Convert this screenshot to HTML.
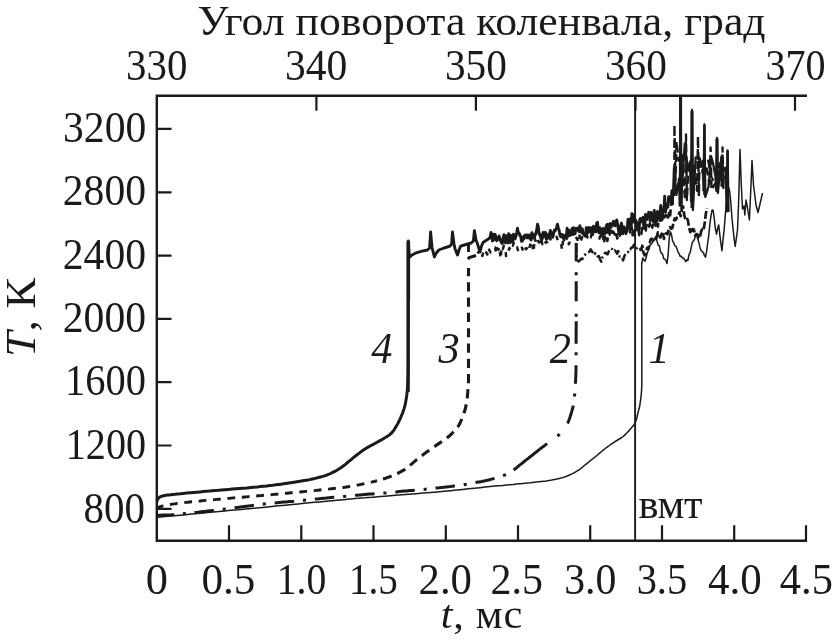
<!DOCTYPE html>
<html lang="ru">
<head>
<meta charset="utf-8">
<title>График</title>
<style>
html,body{margin:0;padding:0;background:#fff;}
body{width:832px;height:641px;overflow:hidden;position:relative;}
svg{position:absolute;left:0;top:0;display:block;}
text{font-family:"Liberation Serif","DejaVu Serif",serif;fill:#1a1a1a;}
.ax{stroke:#1a1a1a;stroke-width:2.4;fill:none;stroke-linecap:butt;stroke-linejoin:miter;}
.tk{stroke:#1a1a1a;stroke-width:2.2;fill:none;}
</style>
</head>
<body>
<svg width="832" height="641" viewBox="0 0 832 641">
<rect width="832" height="641" fill="#fff"/>
<!-- text labels -->
<text transform="translate(197.6,34.5) scale(1,0.95)" text-anchor="start" font-size="43.7" textLength="568" lengthAdjust="spacingAndGlyphs">Угол поворота коленвала, град</text>
<text transform="translate(126.03,79.9) scale(0.9873,1.045)" font-size="41.4">330</text>
<text transform="translate(284.89,79.9) scale(1.0059,1.045)" font-size="41.4">340</text>
<text transform="translate(444.90,79.9) scale(0.9983,1.045)" font-size="41.4">350</text>
<text transform="translate(604.90,79.9) scale(0.9983,1.045)" font-size="41.4">360</text>
<text transform="translate(765.46,79.9) scale(0.9678,1.045)" font-size="41.4">370</text>
<text transform="translate(62.99,142.0) scale(1.0063,1.045)" font-size="41.4">3200</text>
<text transform="translate(62.79,205.3) scale(1.0063,1.045)" font-size="41.4">2800</text>
<text transform="translate(62.79,268.9) scale(1.0063,1.045)" font-size="41.4">2400</text>
<text transform="translate(62.79,332.4) scale(1.0063,1.045)" font-size="41.4">2000</text>
<text transform="translate(65.09,395.3) scale(0.9779,1.045)" font-size="41.4">1600</text>
<text transform="translate(65.72,459.0) scale(0.9701,1.045)" font-size="41.4">1200</text>
<text transform="translate(83.62,522.6) scale(0.9898,1.045)" font-size="41.4">800</text>
<text transform="translate(145.85,593.9) scale(1.0735,1.045)" font-size="41.4">0</text>
<text transform="translate(201.52,593.9) scale(1.0417,1.045)" font-size="41.4">0.5</text>
<text transform="translate(276.77,593.9) scale(0.9587,1.045)" font-size="41.4">1.0</text>
<text transform="translate(349.02,593.9) scale(0.9446,1.045)" font-size="41.4">1.5</text>
<text transform="translate(418.53,593.9) scale(1.0333,1.045)" font-size="41.4">2.0</text>
<text transform="translate(490.47,593.9) scale(1.0156,1.045)" font-size="41.4">2.5</text>
<text transform="translate(564.23,593.9) scale(1.0094,1.045)" font-size="41.4">3.0</text>
<text transform="translate(636.65,593.9) scale(0.9771,1.045)" font-size="41.4">3.5</text>
<text transform="translate(707.96,593.9) scale(1.0367,1.045)" font-size="41.4">4.0</text>
<text transform="translate(779.87,593.9) scale(1.0265,1.045)" font-size="41.4">4.5</text>
<text transform="translate(440.7,627.5) scale(1,0.97)" text-anchor="start" font-size="42.4" textLength="81.5"lengthAdjust="spacing"><tspan font-style="italic">t</tspan>, мс</text>
<text transform="translate(35.2,357) rotate(-90) scale(1,0.93)" font-size="46"><tspan font-style="italic">T</tspan>, К</text>
<text transform="translate(638.5,517.6) scale(1,1.0)" text-anchor="start" font-size="42.4" textLength="64" lengthAdjust="spacing">вмт</text>
<text transform="translate(381.8,362.5) scale(1,1.025)" text-anchor="middle" font-size="42.4" font-style="italic">4</text>
<text transform="translate(449,362.5) scale(1,1.025)" text-anchor="middle" font-size="42.4" font-style="italic">3</text>
<text transform="translate(560.3,362.5) scale(1,1.025)" text-anchor="middle" font-size="42.4" font-style="italic">2</text>
<text transform="translate(659,362.5) scale(1,1.025)" text-anchor="middle" font-size="42.4" font-style="italic">1</text>
<!-- curves -->
<g fill="none" stroke="#1a1a1a" stroke-linejoin="round">
<!-- curve 1 -->
<path stroke-width="1.5" d="M157.0 517.3 L160.4 517.0 L165.1 516.5 L170.8 516.0 L176.9 515.4 L183.3 514.9 L189.5 514.3 L195.2 513.8 L200.0 513.3 L204.0 512.9 L207.4 512.6 L210.5 512.3 L213.4 512.0 L216.1 511.7 L218.9 511.5 L221.8 511.2 L225.0 510.9 L228.3 510.6 L231.5 510.3 L234.7 510.0 L237.9 509.8 L241.4 509.5 L245.2 509.1 L249.3 508.7 L254.0 508.3 L259.3 507.8 L265.4 507.2 L271.8 506.5 L278.6 505.8 L285.4 505.2 L292.0 504.5 L298.3 503.9 L304.0 503.3 L309.3 502.8 L314.4 502.3 L319.3 501.9 L324.0 501.5 L328.4 501.1 L332.6 500.7 L336.5 500.3 L340.0 500.0 L343.0 499.7 L345.4 499.5 L347.5 499.2 L349.2 499.0 L351.0 498.9 L352.9 498.7 L355.2 498.4 L358.0 498.2 L361.2 497.9 L364.5 497.7 L368.0 497.4 L371.8 497.2 L375.8 496.9 L380.1 496.6 L384.9 496.2 L390.0 495.8 L395.8 495.3 L402.1 494.8 L409.0 494.3 L416.1 493.7 L423.4 493.1 L430.5 492.5 L437.5 491.9 L444.0 491.3 L450.2 490.7 L456.4 490.1 L462.5 489.5 L468.5 488.8 L474.3 488.2 L479.8 487.7 L485.1 487.1 L490.0 486.6 L494.6 486.1 L498.8 485.7 L502.7 485.4 L506.4 485.0 L509.9 484.7 L513.3 484.4 L516.6 484.0 L520.0 483.7 L523.3 483.4 L526.6 483.1 L529.8 482.8 L532.9 482.4 L535.8 482.1 L538.7 481.8 L541.4 481.5 L544.0 481.2 L546.4 480.9 L548.7 480.5 L550.8 480.2 L552.9 479.8 L554.8 479.4 L556.6 479.1 L558.3 478.7 L560.0 478.3 L561.5 477.9 L563.0 477.5 L564.2 477.1 L565.5 476.7 L566.6 476.2 L567.7 475.8 L568.9 475.3 L570.0 474.8 L571.2 474.3 L572.3 473.7 L573.5 473.1 L574.6 472.5 L575.7 471.9 L576.8 471.2 L577.8 470.6 L578.8 470.0 L579.7 469.4 L580.5 468.8 L581.3 468.1 L582.0 467.5 L582.8 466.9 L583.5 466.3 L584.2 465.6 L585.0 465.0 L585.8 464.4 L586.6 463.8 L587.3 463.1 L588.1 462.5 L588.9 461.9 L589.7 461.2 L590.5 460.6 L591.2 460.0 L592.0 459.4 L592.8 458.8 L593.6 458.1 L594.4 457.5 L595.1 456.9 L595.9 456.3 L596.7 455.6 L597.5 455.0 L598.3 454.3 L599.1 453.6 L599.9 452.9 L600.8 452.2 L601.6 451.5 L602.4 450.8 L603.2 450.1 L604.0 449.5 L604.8 448.9 L605.5 448.3 L606.3 447.7 L607.0 447.2 L607.8 446.6 L608.5 446.1 L609.3 445.5 L610.0 445.0 L610.7 444.5 L611.5 444.0 L612.2 443.5 L613.0 443.0 L613.7 442.5 L614.5 442.0 L615.2 441.5 L616.0 441.0 L616.8 440.5 L617.6 440.0 L618.5 439.5 L619.3 439.0 L620.2 438.5 L621.0 438.0 L621.8 437.5 L622.5 437.0 L623.2 436.5 L623.8 435.9 L624.4 435.4 L625.0 434.9 L625.5 434.3 L626.0 433.8 L626.5 433.3 L627.0 432.8 L627.4 432.3 L627.9 431.9 L628.2 431.5 L628.6 431.1 L628.9 430.6 L629.3 430.2 L629.6 429.8 L630.0 429.4 L630.4 429.0 L630.8 428.5 L631.2 428.1 L631.6 427.7 L631.9 427.2 L632.3 426.8 L632.7 426.4 L633.0 426.0 L633.3 425.6 L633.6 425.3 L633.8 424.9 L634.1 424.6 L634.3 424.3 L634.5 423.9 L634.8 423.5 L635.0 423.0 L635.2 422.5 L635.5 421.9 L635.7 421.3 L636.0 420.7 L636.2 420.0 L636.4 419.3 L636.6 418.7 L636.8 418.0 L637.0 417.3 L637.1 416.7 L637.3 416.0 L637.4 415.3 L637.6 414.6 L637.7 413.9 L637.8 413.2 L638.0 412.5 L638.2 411.8 L638.4 411.1 L638.6 410.4 L638.8 409.7 L639.0 409.0 L639.2 408.3 L639.3 407.7 L639.5 407.0 L639.6 406.4 L639.7 405.7 L639.9 405.1 L639.9 404.5 L640.0 403.9 L640.1 403.3 L640.2 402.7 L640.3 402.0 L640.4 401.3 L640.5 400.6 L640.6 399.9 L640.7 399.1 L640.8 398.4 L640.9 397.6 L641.0 396.8 L641.1 396.0 L641.2 395.2 L641.3 394.6 L641.3 393.9 L641.4 393.2 L641.4 392.4 L641.5 391.5 L641.6 390.4 L641.6 389.0 L641.6 388.0 L641.7 387.6 L641.7 387.4 L641.7 386.9 L641.8 385.6 L641.8 383.0 L641.8 378.6 L641.8 372.0 L641.8 362.0 L641.8 348.7 L641.8 333.1 L641.8 316.4 L641.7 299.9 L641.7 284.7 L641.7 272.0 L641.7 263.0 L641.7 264.0 L642.8 257.9 L643.9 259.9 L645.0 261.2 L646.1 257.8 L647.2 253.2 L648.3 250.3 L649.4 246.9 L650.5 243.9 L651.6 244.0 L652.7 241.7 L653.8 241.1 L654.9 238.0 L656.0 236.5 L657.1 241.6 L658.2 245.2 L659.3 245.6 L660.4 251.1 L661.5 253.3 L662.6 254.1 L663.7 258.7 L664.8 259.1 L665.9 260.4 L667.0 263.5 L668.1 255.2 L669.2 238.6 L670.3 231.8 L671.4 234.0 L672.5 240.6 L673.6 242.6 L674.7 245.6 L675.8 246.1 L676.9 248.5 L678.0 252.1 L679.1 253.7 L680.2 256.5 L681.3 256.2 L682.4 257.9 L683.5 258.0 L684.6 259.7 L685.7 261.7 L686.8 259.9 L687.9 260.5 L689.0 254.5 L690.1 252.9 L691.2 247.6 L692.3 242.4 L693.4 241.1 L694.5 239.2 L695.6 234.7 L696.7 235.6 L697.8 239.0 L698.9 242.8 L700.0 247.4 L701.1 250.5 L702.2 251.7 L703.3 252.3 L704.4 255.6 L705.5 257.1 L706.6 251.4 L707.7 243.0 L708.8 235.1 L709.9 223.7 L711.0 215.9 L712.1 209.9 L713.2 210.5 L714.3 219.2 L715.4 228.8 L716.5 234.2 L717.6 228.5 L718.7 224.9 L719.8 234.8 L720.9 243.5 L722.0 250.8 L723.1 238.8 L724.2 229.3 L725.3 214.8 L726.4 203.3 L727.5 190.6 L728.6 187.5 L729.7 191.7 L730.8 202.0 L731.9 217.3 L733.0 228.4 L734.1 238.6 L735.2 246.5 L737.5 230.0 L738.7 200.0 L740.0 149.5 L741.3 185.0 L742.5 209.0 L744.0 206.0 L744.8 215.0 L746.0 200.0 L747.5 208.0 L749.4 220.0 L751.0 185.0 L752.0 160.5 L753.5 185.0 L756.0 205.0 L758.0 212.5 L760.0 204.0 L762.5 193.0"/>
<!-- curve 2 -->
<path stroke-width="3" stroke-dasharray="17.4 8.6 3.0 8.6 19.5 8.9 3.1 8.9 19.5 8.9 3.1 8.9 19.5 8.9 3.1 8.9 19.5 8.9 3.1 8.9 19.5 8.9 3.1 8.9 19.5 8.9 3.1 8.9 19.5 8.9 3.1 8.9 19.5 8.9 3.1 8.9 42.7 12.8 3.0 13.2 18.9 9.2 3.0 9.8 18.5 10.0 3.0 8.5 22.5 4.5 3.0 12.5 20.0 6.0 3.0 11.0 22.0" d="M157.0 515.3 L158.4 515.3 L160.3 515.2 L162.6 515.1 L165.1 515.1 L167.7 515.0 L170.2 514.9 L172.5 514.8 L174.4 514.7 L176.0 514.6 L177.4 514.5 L178.6 514.3 L179.8 514.2 L180.9 514.0 L182.0 513.9 L183.1 513.7 L184.4 513.6 L185.7 513.5 L186.9 513.3 L188.2 513.2 L189.4 513.1 L190.8 512.9 L192.2 512.8 L193.8 512.6 L195.6 512.4 L197.6 512.2 L200.0 511.9 L202.5 511.6 L205.0 511.4 L207.6 511.1 L210.1 510.8 L212.4 510.5 L214.4 510.3 L216.1 510.1 L217.7 509.9 L219.0 509.7 L220.3 509.6 L221.5 509.4 L222.6 509.3 L223.8 509.2 L225.0 509.0 L226.1 508.9 L227.0 508.8 L227.7 508.7 L228.5 508.6 L229.4 508.4 L230.7 508.3 L232.3 508.1 L234.4 507.8 L237.2 507.4 L240.6 507.0 L244.4 506.5 L248.5 505.9 L252.7 505.4 L256.8 504.9 L260.6 504.4 L264.0 504.0 L267.0 503.7 L269.7 503.4 L272.2 503.1 L274.6 502.9 L276.9 502.7 L279.2 502.5 L281.6 502.3 L284.0 502.1 L286.5 501.9 L289.0 501.6 L291.5 501.4 L294.0 501.2 L296.5 500.9 L299.0 500.7 L301.5 500.4 L304.0 500.2 L306.5 500.0 L308.9 499.7 L311.4 499.4 L313.8 499.2 L316.3 498.9 L318.7 498.7 L321.2 498.4 L323.7 498.2 L326.2 498.0 L328.7 497.7 L331.3 497.5 L333.8 497.3 L336.3 497.1 L338.9 496.9 L341.4 496.6 L344.0 496.4 L346.6 496.2 L349.2 495.9 L351.8 495.7 L354.4 495.4 L357.0 495.2 L359.6 494.9 L362.2 494.7 L364.7 494.5 L367.1 494.3 L369.5 494.1 L371.9 494.0 L374.2 493.8 L376.6 493.6 L378.9 493.5 L381.3 493.3 L383.8 493.1 L386.3 492.9 L388.8 492.6 L391.4 492.4 L394.1 492.1 L396.7 491.9 L399.3 491.6 L401.9 491.3 L404.4 491.1 L406.9 490.9 L409.5 490.6 L412.1 490.4 L414.7 490.2 L417.1 490.0 L419.5 489.8 L421.7 489.6 L423.8 489.4 L425.5 489.2 L427.0 489.1 L428.3 488.9 L429.5 488.8 L430.7 488.6 L431.9 488.5 L433.4 488.3 L435.0 488.1 L436.9 487.9 L439.1 487.7 L441.4 487.4 L443.8 487.2 L446.1 486.9 L448.4 486.7 L450.6 486.5 L452.5 486.2 L454.2 486.0 L455.8 485.9 L457.2 485.7 L458.6 485.5 L459.8 485.3 L461.1 485.2 L462.4 485.0 L463.8 484.8 L465.1 484.5 L466.5 484.3 L467.8 484.0 L469.2 483.8 L470.5 483.5 L471.8 483.2 L473.1 483.0 L474.4 482.8 L475.7 482.5 L476.9 482.3 L478.1 482.1 L479.3 481.9 L480.5 481.7 L481.7 481.5 L482.8 481.2 L484.0 481.0 L485.1 480.7 L486.3 480.5 L487.4 480.2 L488.5 480.0 L489.6 479.7 L490.7 479.4 L491.8 479.1 L493.0 478.8 L494.2 478.4 L495.5 478.0 L496.9 477.6 L498.2 477.2 L499.5 476.8 L500.8 476.4 L501.9 476.0 L503.0 475.6 L503.9 475.3 L504.8 474.9 L505.6 474.6 L506.3 474.3 L507.0 474.0 L507.6 473.7 L508.3 473.4 L509.0 473.0 L509.7 472.6 L510.3 472.2 L511.0 471.8 L511.6 471.4 L512.2 471.0 L512.9 470.5 L513.6 470.0 L514.4 469.4 L515.2 468.8 L516.1 468.1 L517.1 467.3 L518.0 466.5 L519.0 465.7 L520.0 464.9 L521.0 464.1 L522.0 463.3 L523.0 462.5 L523.9 461.8 L524.9 461.0 L525.9 460.2 L526.9 459.4 L527.9 458.6 L528.9 457.8 L530.0 457.0 L531.1 456.1 L532.2 455.3 L533.3 454.3 L534.4 453.4 L535.6 452.5 L536.7 451.6 L537.9 450.7 L539.0 449.8 L540.1 448.9 L541.3 448.0 L542.5 447.1 L543.7 446.2 L544.8 445.4 L546.0 444.5 L547.0 443.7 L548.0 443.0 L548.9 442.3 L549.7 441.7 L550.5 441.2 L551.2 440.6 L551.9 440.1 L552.6 439.6 L553.3 439.1 L554.0 438.6 L554.7 438.1 L555.4 437.6 L556.1 437.1 L556.8 436.6 L557.5 436.1 L558.1 435.5 L558.8 435.0 L559.4 434.4 L560.0 433.8 L560.6 433.2 L561.2 432.5 L561.8 431.8 L562.4 431.2 L562.9 430.5 L563.5 429.7 L564.0 429.0 L564.5 428.3 L565.1 427.5 L565.6 426.7 L566.1 425.9 L566.6 425.1 L567.1 424.3 L567.6 423.4 L568.0 422.5 L568.4 421.5 L568.8 420.5 L569.2 419.5 L569.6 418.4 L570.0 417.4 L570.3 416.2 L570.7 415.1 L571.0 414.0 L571.3 412.9 L571.7 411.7 L572.0 410.5 L572.4 409.3 L572.7 408.1 L573.0 406.9 L573.3 405.7 L573.5 404.4 L573.7 403.1 L573.9 401.8 L574.1 400.5 L574.2 399.2 L574.4 397.8 L574.5 396.5 L574.6 395.1 L574.8 393.8 L574.9 392.4 L575.0 391.1 L575.1 389.8 L575.2 388.6 L575.3 387.2 L575.3 385.8 L575.4 384.2 L575.5 382.5 L575.6 380.9 L575.6 379.7 L575.7 378.5 L575.8 377.1 L575.8 375.3 L575.9 372.9 L576.0 369.5 L576.0 365.0 L576.0 359.1 L576.1 351.9 L576.1 343.8 L576.1 335.0 L576.2 325.9 L576.2 316.8 L576.2 308.1 L576.2 300.0 L576.2 292.1 L576.2 283.9 L576.2 275.5 L576.2 267.4 L576.2 259.8 L576.2 253.1 L576.2 247.3 L576.2 243.0"/>
<path stroke-width="2.5" stroke-dasharray="9 3 2 3" d="M576.2 243.0 L576.6 258.0 L577.5 260.5 L578.7 261.4 L579.9 260.3 L581.1 258.7 L582.3 259.3 L583.5 255.9 L584.7 255.4 L585.9 253.3 L587.1 252.1 L588.3 252.1 L589.5 251.8 L590.7 249.3 L591.9 251.3 L593.1 253.0 L594.3 255.3 L595.5 253.0 L596.7 254.2 L597.9 256.6 L599.1 256.3 L600.3 260.0 L601.5 261.8 L602.7 256.9 L603.9 256.0 L605.1 252.7 L606.3 253.3 L607.5 254.4 L608.7 251.5 L609.9 249.0 L611.1 248.4 L612.3 249.2 L613.5 251.2 L614.7 250.3 L615.9 251.4 L617.1 253.8 L618.3 251.1 L619.5 256.5 L620.7 256.1 L621.9 257.2 L623.1 260.4 L624.3 256.2 L625.5 253.8 L626.7 252.4 L627.9 252.4 L629.1 249.2 L630.3 249.5 L631.5 247.4 L632.7 247.6 L633.9 244.7 L635.1 248.1 L636.3 249.1 L637.5 246.8 L638.7 247.4 L639.9 248.5 L641.1 251.1"/>
<path stroke-width="2.7" stroke-dasharray="8 2.5" d="M641.1 251.1 L642.3 245.7 L643.5 252.8 L644.7 255.3 L645.9 253.6 L647.1 247.8 L648.3 249.2 L649.5 244.2 L650.7 239.3 L651.9 238.7 L653.1 240.1 L654.3 238.2 L655.5 239.0 L656.7 237.4 L657.9 232.4 L659.1 234.0 L660.3 237.5 L661.5 234.2 L662.7 231.6 L663.9 238.8 L665.1 234.4 L666.3 233.1 L667.5 234.2 L668.7 229.8 L669.9 227.2 L671.1 228.7 L672.3 228.1 L673.5 222.7 L674.7 218.5 L675.9 219.8 L677.1 217.2 L678.3 215.9 L679.5 212.5 L680.7 216.1 L681.9 209.2 L683.1 206.5 L684.3 215.4 L685.5 219.2 L686.7 217.7 L687.9 220.4 L689.1 227.8 L690.3 232.2 L691.5 227.0 L692.7 230.9 L693.9 229.5 L695.1 235.6 L696.3 234.1 L697.5 234.4 L698.7 238.2 L699.9 238.1 L701.1 231.2 L702.3 229.2 L703.5 230.3 L704.7 223.1 L705.9 213.2 L707.1 208.1"/>
<path stroke-width="2.2" stroke-dasharray="9 4" d="M708.0 159.6 L710.8 175.7 L713.3 180.6 L716.9 181.4 L719.7 163.3 L722.3 183.0"/>
<!-- curve 3 -->
<path stroke-width="2.9" stroke-dasharray="7.80 6.65" stroke-dashoffset="14.41" d="M157.0 509.5 L157.1 509.3 L157.2 509.1 L157.3 508.8 L157.5 508.5 L157.7 508.2 L157.9 507.9 L158.2 507.6 L158.5 507.4 L158.9 507.2 L159.3 507.0 L159.7 506.8 L160.2 506.6 L160.7 506.5 L161.3 506.3 L162.1 506.1 L163.0 505.9 L164.0 505.7 L165.2 505.4 L166.5 505.2 L167.9 504.9 L169.4 504.6 L170.9 504.4 L172.4 504.1 L174.0 503.9 L175.6 503.7 L177.3 503.4 L179.0 503.2 L180.8 503.0 L182.6 502.8 L184.4 502.6 L186.2 502.4 L188.0 502.2 L189.7 502.0 L191.5 501.8 L193.2 501.7 L194.9 501.5 L196.7 501.3 L198.4 501.1 L200.2 501.0 L202.0 500.8 L203.8 500.6 L205.7 500.4 L207.6 500.3 L209.5 500.1 L211.4 499.9 L213.3 499.7 L215.1 499.6 L217.0 499.4 L218.8 499.2 L220.7 499.1 L222.5 498.9 L224.3 498.7 L226.1 498.6 L227.9 498.4 L229.7 498.3 L231.5 498.1 L233.3 497.9 L235.2 497.8 L237.0 497.6 L238.9 497.5 L240.7 497.3 L242.6 497.2 L244.3 497.0 L246.0 496.9 L247.6 496.8 L249.1 496.6 L250.5 496.5 L251.9 496.4 L253.3 496.2 L254.8 496.1 L256.3 496.0 L258.0 495.8 L259.8 495.6 L261.7 495.5 L263.8 495.3 L265.8 495.1 L267.9 494.9 L270.0 494.8 L272.0 494.6 L274.0 494.4 L275.9 494.2 L277.8 494.1 L279.7 493.9 L281.6 493.7 L283.4 493.5 L285.3 493.3 L287.1 493.2 L289.0 493.0 L290.9 492.8 L292.8 492.6 L294.7 492.5 L296.6 492.3 L298.4 492.1 L300.3 492.0 L302.2 491.8 L304.0 491.6 L305.8 491.4 L307.6 491.3 L309.3 491.1 L311.1 490.9 L312.8 490.7 L314.5 490.6 L316.3 490.4 L318.0 490.2 L319.7 490.0 L321.5 489.8 L323.2 489.7 L325.0 489.5 L326.7 489.3 L328.5 489.1 L330.2 488.9 L332.0 488.7 L333.8 488.5 L335.6 488.3 L337.4 488.1 L339.2 487.9 L341.0 487.7 L342.9 487.5 L344.7 487.3 L346.5 487.0 L348.3 486.7 L350.1 486.4 L351.9 486.1 L353.7 485.8 L355.5 485.5 L357.3 485.1 L359.2 484.8 L361.0 484.4 L362.9 484.0 L364.7 483.6 L366.6 483.2 L368.5 482.8 L370.4 482.4 L372.3 481.9 L374.2 481.5 L376.0 481.0"/>
<path stroke-width="3.1" stroke-dasharray="9.20 6.10" stroke-dashoffset="8.07" d="M376.0 481.0 L377.8 480.5 L379.6 480.0 L381.3 479.5 L383.0 479.0 L384.8 478.5 L386.5 477.9 L388.2 477.3 L390.0 476.6 L391.8 475.9 L393.6 475.1 L395.4 474.4 L397.2 473.5 L399.1 472.7 L400.9 471.7 L402.7 470.7 L404.5 469.6 L406.3 468.4 L408.0 467.0 L409.8 465.6 L411.5 464.1 L413.2 462.6 L415.0 461.1 L416.7 459.6 L418.5 458.2 L420.3 456.8 L422.1 455.5 L423.9 454.1 L425.7 452.8 L427.5 451.4 L429.4 450.1 L431.2 448.8 L433.0 447.5 L434.9 446.2 L436.8 444.9 L438.7 443.6 L440.6 442.4 L442.5 441.1 L444.3 439.9 L446.0 438.7 L447.5 437.5 L448.9 436.3 L450.2 435.2 L451.3 434.1 L452.4 433.0 L453.4 431.9 L454.3 430.9 L455.2 429.9 L456.0 429.0 L456.7 428.2 L457.3 427.4 L457.8 426.8 L458.3 426.2 L458.7 425.5 L459.1 424.8 L459.5 424.0 L460.0 423.0 L460.5 421.9 L461.1 420.6 L461.7 419.2 L462.2 417.8 L462.8 416.3 L463.4 414.8 L463.9 413.4 L464.3 412.0 L464.7 410.7 L465.1 409.5 L465.4 408.3 L465.7 407.1 L466.0 405.9 L466.2 404.6 L466.5 403.3 L466.7 402.0 L466.9 400.6 L467.1 399.2 L467.3 397.8 L467.4 396.3 L467.5 394.8 L467.7 393.3 L467.8 391.7 L467.9 390.0 L468.0 388.9 L468.1 388.6 L468.2 388.6 L468.3 388.4 L468.3 387.5 L468.4 385.3 L468.5 381.3 L468.5 375.0 L468.5 365.3 L468.5 352.2 L468.5 336.9 L468.5 320.6 L468.5 304.3 L468.5 289.4 L468.5 276.9 L468.5 268.0"/>
<path stroke-width="2.9" d="M468.6 259.5 L468.8 257.6 L471.0 257.0 L476.0 255.5 M468.5 252V244"/>
<path stroke-width="2.5" stroke-dasharray="4.5 6.5" d="M477.5 253.4 L478.6 252.0 L479.7 251.4 L480.8 257.7 L481.9 257.2 L483.0 253.5 L484.1 250.1 L485.2 249.0 L486.3 252.6 L487.4 254.5 L488.5 247.9 L489.6 250.8 L490.7 252.5 L491.8 250.5 L492.9 248.5 L494.0 248.1 L495.1 247.5 L496.2 253.2 L497.3 248.1 L498.4 249.9 L499.5 246.8 L500.6 258.9 L501.7 246.5 L502.8 249.0 L503.9 245.7 L505.0 245.9 L506.1 256.1 L507.2 250.8 L508.3 251.0 L509.4 248.0 L510.5 250.4 L511.6 245.4 L512.7 245.8 L513.8 243.2 L514.9 242.6 L516.0 248.0 L517.1 247.3 L518.2 251.1 L519.3 250.5 L520.4 248.7 L521.5 246.2 L522.6 249.6 L523.7 245.1 L524.8 245.3 L525.9 249.3 L527.0 248.1 L528.1 245.5 L529.2 248.9 L530.3 244.4 L531.4 241.1 L532.5 246.1 L533.6 252.1 L534.7 237.4 L535.8 244.8 L536.9 241.5 L538.0 240.9 L539.1 242.0 L540.2 245.2 L541.3 240.4 L542.4 244.2 L543.5 241.1 L544.6 243.9 L545.7 242.2 L546.8 241.7 L547.9 244.4 L549.0 240.3 L550.1 237.7 L551.2 242.6 L552.3 240.2 L553.4 234.3 L554.5 233.2 L555.6 237.8 L556.7 236.9 L557.8 240.5 L558.9 241.7 L560.0 241.2 L561.1 244.3 L562.2 250.3 L563.3 235.7 L564.4 243.0 L565.5 237.2 L566.6 238.9 L567.7 236.9 L568.8 244.2 L569.9 241.5 L571.0 238.7 L572.1 236.8 L573.2 234.3 L574.3 231.1 L575.4 236.1 L576.5 238.0 L577.6 240.0 L578.7 243.1 L579.8 234.4 L580.9 240.6 L582.0 237.6 L583.1 235.1 L584.2 234.6 L585.3 234.6 L586.4 232.9 L587.5 237.6 L588.6 234.3 L589.7 237.0 L590.8 237.4 L591.9 233.0 L593.0 234.6 L594.1 229.5 L595.2 230.0 L596.3 233.7 L597.4 234.2 L598.5 235.1 L599.6 238.5 L600.7 233.7 L601.8 235.8"/>
<path stroke-width="2.6" stroke-dasharray="7 3.5" d="M600.7 233.7 L601.8 235.8 L602.9 236.3 L604.0 242.7 L605.1 234.3 L606.2 229.4 L607.3 240.9 L608.4 234.7 L609.5 234.8 L610.6 230.4 L611.7 234.8 L612.8 231.4 L613.9 232.8 L615.0 234.7 L616.1 232.2 L617.2 238.4 L618.3 236.7 L619.4 233.6 L620.5 234.2 L621.6 226.7 L622.7 231.9 L623.8 226.9 L624.9 229.7 L626.0 233.8 L627.1 228.4 L628.2 226.6 L629.3 222.6 L630.4 233.6 L631.5 227.0 L632.6 235.3 L633.7 227.9 L634.8 235.6 L635.9 230.5 L637.0 225.0 L638.1 226.2 L639.2 235.1 L640.3 232.8 L641.4 233.8 L642.5 221.9 L643.6 223.2 L644.7 226.9 L645.8 230.4 L646.9 217.1 L648.0 223.7 L649.1 226.6 L650.2 222.7 L651.3 221.9 L652.4 227.7 L653.5 218.0 L654.6 225.9 L655.7 223.6 L656.8 219.6 L657.9 226.6 L659.0 217.3 L660.1 222.7 L661.2 219.7 L662.3 213.0 L663.4 214.7 L664.5 217.3 L665.6 214.8 L666.7 216.7 L667.8 219.6 L668.9 213.1 L670.0 217.1 L671.1 204.9 L672.2 204.0 L673.3 204.0"/>
<path stroke-width="2.4" stroke-dasharray="8 4" d="M674.4 196.0 L674.4 125.0 L675.5 180.0 L676.5 141.4 L678.6 160.5 L681.8 153.6 L684.4 191.9 L685.1 199.3 L686.0 134.5 L686.9 200.0 L688.2 173.4 L691.9 156.5 L694.7 173.8 L697.1 190.8 L698.0 136.5 L698.9 196.0 L699.5 156.9 L703.1 174.9 L706.7 168.4 L709.2 183.0 L709.7 182.4 L710.6 147.5 L711.5 190.0 L714.7 184.1 L717.6 182.7 L720.3 163.9 L721.6 185.7 L722.5 147.5 L723.4 188.0 L723.8 170.7"/>
<!-- curve 4 -->
<path stroke-width="3" d="M157.0 501.3 L157.1 501.1 L157.2 500.8 L157.3 500.4 L157.4 500.0 L157.5 499.6 L157.7 499.2 L158.0 498.8 L158.3 498.4 L158.6 498.1 L159.0 497.8 L159.3 497.4 L159.7 497.1 L160.2 496.8 L160.8 496.5 L161.6 496.3 L162.5 496.0 L163.6 495.7 L164.7 495.5 L166.0 495.3 L167.4 495.1 L169.0 494.9 L170.8 494.7 L172.8 494.4 L175.0 494.2 L177.5 493.9 L180.4 493.7 L183.5 493.4 L186.7 493.1 L190.1 492.8 L193.5 492.5 L196.8 492.2 L200.0 491.9 L203.1 491.6 L206.2 491.3 L209.2 491.1 L212.2 490.8 L215.3 490.5 L218.5 490.3 L221.7 490.0 L225.0 489.7 L228.5 489.4 L232.1 489.1 L235.8 488.8 L239.5 488.5 L243.2 488.2 L246.9 487.9 L250.5 487.5 L254.0 487.2 L257.3 486.9 L260.5 486.5 L263.7 486.2 L266.8 485.9 L269.8 485.5 L272.8 485.2 L275.9 484.8 L279.0 484.4 L282.2 484.0 L285.5 483.5 L288.9 483.0 L292.3 482.5 L295.5 482.0 L298.6 481.5 L301.5 481.0 L304.0 480.6 L306.2 480.2 L308.0 479.9 L309.6 479.6 L311.0 479.3 L312.4 479.0 L313.7 478.7 L315.0 478.4 L316.5 478.0 L318.1 477.6 L319.6 477.2 L321.2 476.8 L322.8 476.4 L324.3 475.9 L325.9 475.4 L327.4 474.8 L329.0 474.2 L330.6 473.5 L332.2 472.7 L333.8 471.9 L335.3 471.1 L336.9 470.2 L338.5 469.2 L340.0 468.3 L341.5 467.3 L342.9 466.3 L344.3 465.2 L345.7 464.1 L347.0 463.0 L348.3 461.9 L349.7 460.7 L351.1 459.6 L352.5 458.4 L354.0 457.2 L355.5 456.0 L357.1 454.8 L358.7 453.6 L360.2 452.4 L361.8 451.2 L363.4 450.1 L365.0 449.0 L366.6 448.0 L368.1 447.1 L369.7 446.2 L371.2 445.4 L372.8 444.6 L374.4 443.7 L375.9 442.9 L377.5 442.0 L379.1 441.1 L380.8 440.2 L382.5 439.2 L384.1 438.3 L385.8 437.3 L387.3 436.4 L388.7 435.4 L390.0 434.4 L391.1 433.4 L392.0 432.4 L392.9 431.5 L393.6 430.5 L394.3 429.5 L394.9 428.4 L395.6 427.4 L396.2 426.2 L396.9 425.1 L397.6 423.9 L398.3 422.6 L398.9 421.3 L399.6 420.0 L400.2 418.7 L400.7 417.5 L401.2 416.2 L401.7 415.1 L402.2 414.0 L402.6 412.9 L403.0 411.8 L403.4 410.7 L403.8 409.6 L404.1 408.6 L404.4 407.5 L404.7 406.4 L405.0 405.4 L405.2 404.4 L405.4 403.3 L405.6 402.3 L405.8 401.2 L406.0 400.1 L406.2 399.0 L406.4 397.8 L406.6 396.6 L406.7 395.4 L406.9 394.2 L407.0 392.9 L407.2 391.6 L407.3 390.3 L407.4 389.0 L407.5 387.7 L407.6 386.4 L407.7 385.0 L407.8 383.7 L407.8 382.3 L407.9 380.9 L407.9 379.5 L408.0 378.0 L408.0 376.4 L408.1 374.6 L408.1 372.7 L408.1 370.8 L408.2 369.0 L408.2 367.4 L408.2 366.0 L408.2 365.0"/>
<path stroke-width="3.2" d="M408.15 392V300"/>
<path stroke-width="2.9" d="M408.2 365.0 L408.3 241.0 L409.3 257.5 L412.0 255.0 L416.2 252.8 L422.0 251.2 L427.5 250.0 L429.6 248.0 L430.6 232.0 L432.0 247.5 L434.4 257.0 L436.3 253.0 L438.8 250.0 L444.0 248.0 L450.0 246.2 L451.6 244.0 L452.5 232.0 L454.0 244.0 L455.0 248.8 L457.5 255.0 L459.0 250.0 L460.6 246.2 L466.0 244.5 L471.2 243.0 L473.4 241.0 L474.4 230.6 L476.0 240.0 L477.5 243.8 L480.0 252.0 L481.5 246.0 L483.0 242.5 L486.0 240.5 L488.8 238.8 L490.2 237.0 L491.0 232.5 L492.5 241.0 L493.5 234.1 L494.3 239.5 L495.1 234.4 L495.9 236.7 L496.7 240.8 L497.5 237.9 L498.3 239.2 L499.1 236.0 L499.9 238.4 L500.7 241.2 L501.5 242.9 L502.3 243.5 L503.1 238.6 L503.9 234.7 L504.7 236.7 L505.5 242.8 L506.3 235.8 L507.1 238.1 L507.9 242.8 L508.7 233.6 L509.5 239.3 L510.3 242.7 L511.1 235.4 L511.9 238.5 L512.7 242.0 L513.5 234.1 L514.3 237.9 L515.1 238.9 L515.9 236.4 L516.7 232.7 L517.5 228.3 L518.3 232.7 L519.1 233.0 L519.9 235.6 L520.7 236.1 L521.5 241.3 L522.3 241.1 L523.1 237.0 L523.9 238.9 L524.7 235.2 L525.5 236.3 L526.3 234.9 L527.1 237.9 L527.9 234.9 L528.7 235.7 L529.5 238.2 L530.3 235.1 L531.1 240.0 L531.9 232.6 L532.7 238.1 L533.5 234.9 L534.3 234.8 L535.1 235.6 L535.9 232.9 L536.7 230.1 L537.5 224.3 L538.3 226.7 L539.1 234.4 L539.9 234.1 L540.7 237.5 L541.5 240.6 L542.3 238.4 L543.1 232.4 L543.9 234.3 L544.7 236.5 L545.5 232.3 L546.3 239.2 L547.1 238.9 L547.9 237.9 L548.7 234.0 L549.5 237.6 L550.3 230.5 L551.1 232.2 L551.9 233.7 L552.7 236.4 L553.5 233.7 L554.3 230.2 L555.1 231.0 L555.9 229.1 L556.7 227.2 L557.5 224.2 L558.3 228.2 L559.1 230.1 L559.9 234.9 L560.7 236.7 L561.5 234.5 L562.3 234.4 L563.1 238.0 L563.9 238.4 L564.7 235.6 L565.5 236.2 L566.3 237.2 L567.1 228.1 L567.9 236.4 L568.7 230.3 L569.5 232.2 L570.3 235.4 L571.1 234.5 L571.9 228.7 L572.7 233.8 L573.5 227.8 L574.3 230.6 L575.1 233.9 L575.9 228.4 L576.7 228.5 L577.5 228.1 L578.3 230.6 L579.1 231.6 L579.9 225.6 L580.7 231.4 L581.5 232.3 L582.3 228.8 L583.1 234.1 L583.9 234.1 L584.7 235.7 L585.5 236.2 L586.3 227.6 L587.1 228.6 L587.9 232.8 L588.7 227.5 L589.5 228.4 L590.3 231.8 L591.1 227.7 L591.9 233.8 L592.7 234.5 L593.5 226.2 L594.3 230.6 L595.1 231.6 L595.9 231.7 L596.7 223.0 L597.5 222.3 L598.3 231.0 L599.1 232.8 L599.9 227.6 L600.7 230.7 L601.5 234.0 L602.3 235.8 L603.1 228.4 L603.9 232.9 L604.7 233.7 L605.5 230.3 L606.3 226.0 L607.1 224.4 L607.9 227.0 L608.7 232.8 L609.5 224.0 L610.3 223.5 L611.1 227.4 L611.9 223.8 L612.7 224.4 L613.5 221.2 L614.3 225.4 L615.1 225.8 L615.9 222.0 L616.7 219.9 L617.5 223.8 L618.3 228.7 L619.1 234.2 L619.9 235.4 L620.7 226.2 L621.5 223.1 L622.3 233.1 L623.1 233.7 L623.9 226.7 L624.7 230.6 L625.5 231.7 L626.3 228.1 L627.1 231.5 L627.9 219.5 L628.7 222.8 L629.5 222.7 L630.3 218.6 L631.1 228.2 L631.9 213.7 L632.7 222.1 L633.5 214.6 L634.3 220.3 L635.1 222.6 L635.9 220.3 L636.7 225.8 L637.5 226.4 L638.3 223.0 L639.1 228.8 L639.9 219.0 L640.7 218.5 L641.5 220.5 L642.3 220.5 L643.1 217.3 L643.9 228.5 L644.7 226.7 L645.5 214.4 L646.3 218.4 L647.1 215.5 L647.9 217.2 L648.7 212.2 L649.5 214.1 L650.3 220.6 L651.1 212.5 L651.9 218.4 L652.7 218.8 L653.5 222.4 L654.3 210.4 L655.1 222.7 L655.9 225.7 L656.7 218.4 L657.5 211.4 L658.3 217.2 L659.1 217.2 L659.9 215.6 L660.7 205.5 L661.5 220.3 L662.3 219.4 L663.1 208.6 L663.9 209.6 L664.7 196.3 L665.5 212.0 L666.3 207.2 L667.1 204.2 L667.9 207.2 L668.7 196.6 L669.5 199.1 L670.3 197.0 L671.1 202.7 L671.9 190.6 L672.7 204.5"/>
<path stroke-width="2.3" d="M672.7 204.5 L674.0 167.9 L676.4 194.8 L679.2 178.3 L679.7 205.7 L680.6 97.0 L681.5 209.0 L681.9 187.8 L684.8 143.6 L687.8 170.0 L690.0 161.7 L691.1 201.1 L692.0 110.0 L692.9 210.0 L695.7 157.3 L698.8 157.2 L700.7 166.9 L702.9 161.0 L703.5 190.6 L704.4 124.5 L705.3 197.0 L708.6 186.5 L711.2 156.7 L713.0 163.0 L715.5 176.5 L716.1 189.7 L717.0 138.0 L717.9 193.0 L721.4 156.7 L723.3 169.8 L725.6 167.6 L726.7 211.4 L727.6 150.5 L728.5 212.0"/>
<path stroke-width="3.6" d="M408.3 300V241"/>
<path stroke-width="3" d="M680.6 96V205M692 111V208M717 139V192"/>
<path stroke-width="2.4" d="M704.4 125V195M727.6 151V210"/>
</g>
<!-- VMT line -->
<path d="M635.1 96V540" stroke="#1a1a1a" stroke-width="1.9" fill="none"/>
<!-- axes -->
<path class="ax" d="M807 95.7H156.8V540.7H807"/>
<path class="tk" d="M157 128.9H171.5M157 192.3H171.5M157 255.6H171.5M157 318.9H171.5M157 382.2H171.5M157 445.5H171.5M157 508.8H171.5"/>
<path class="tk" d="M229 541V525.2M301.3 541V525.2M373.5 541V525.2M445.8 541V525.2M518 541V525.2M590.2 541V525.2M662 541V525.2M734.2 541V525.2M806 541.8V525.2"/>
<path class="tk" d="M316.4 95V110.8M475.9 95V110.8M635.5 95V110.8M795 95V110.8"/>
</svg>
</body>
</html>
